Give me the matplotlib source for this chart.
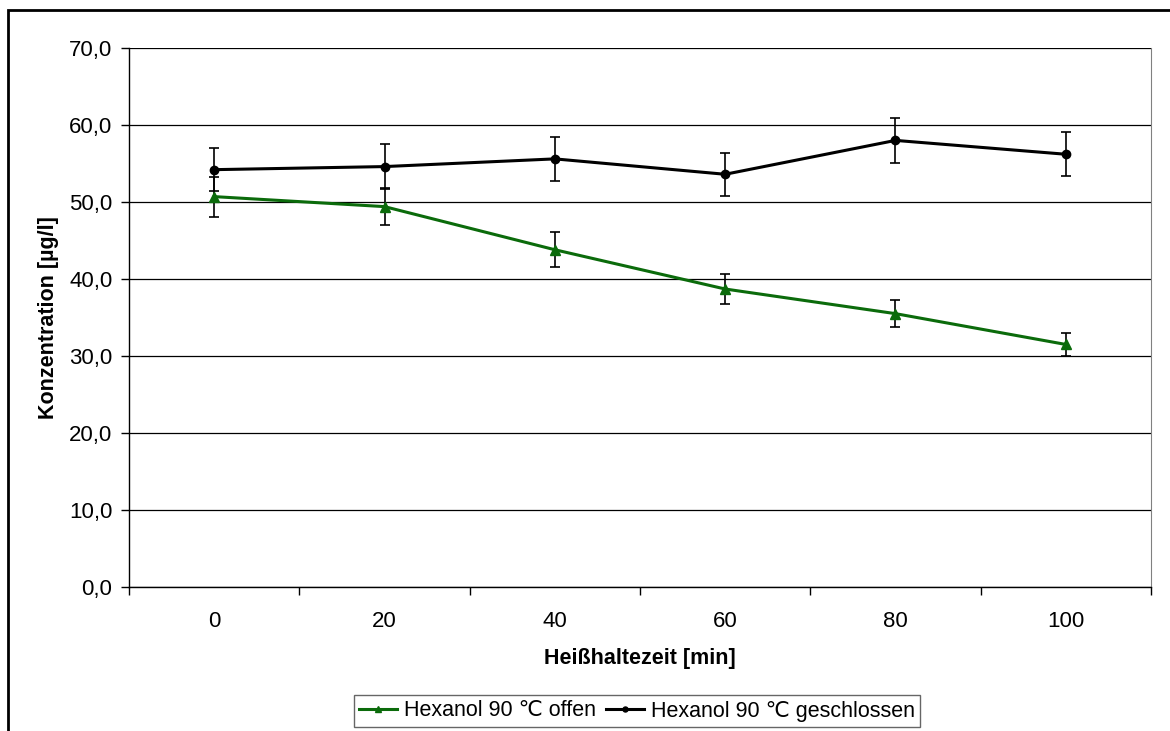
import matplotlib.pyplot as plt
from matplotlib.patches import Rectangle
from matplotlib.ticker import FuncFormatter, FixedLocator

# --- DATA ---
zeit = ['0', '20', '40', '60', '80', '100']
offen = [50.7, 49.4, 43.8, 38.7, 35.5, 31.5]
offen_err = [2.6, 2.4, 2.3, 2.0, 1.75, 1.55]
geschlossen = [54.2, 54.6, 55.6, 53.6, 58.0, 56.2]
geschlossen_err = [2.8, 2.9, 2.85, 2.8, 2.95, 2.85]

GREEN = '#0b6b0b'
FS = 15.5

plt.rcParams['font.family'] = ['Liberation Sans', 'DejaVu Sans']

fig = plt.figure(figsize=(11.7, 7.31), dpi=100)
ax = fig.add_axes([129 / 1170, 1 - 587 / 731, (1151 - 129) / 1170, (587 - 48) / 731])

# chart area border (runs off the right/bottom edge in the original)
fig.patches.append(Rectangle((8 / 1170, -0.2), 1.2, 1 - 10 / 731 + 0.2,
                             transform=fig.transFigure, fill=False,
                             edgecolor='black', linewidth=2.0))

x = list(range(len(zeit)))

ax.errorbar(x, offen, yerr=offen_err, fmt='none', ecolor='black',
            elinewidth=1.2, capsize=3.3, capthick=1.2, zorder=3)
ax.errorbar(x, geschlossen, yerr=geschlossen_err, fmt='none', ecolor='black',
            elinewidth=1.2, capsize=3.3, capthick=1.2, zorder=3)
ax.plot(x, offen, color=GREEN, lw=2.2, marker='^', ms=6.5,
        label='Hexanol 90 \u2103 offen', zorder=4)
ax.plot(x, geschlossen, color='black', lw=2.2, marker='o', ms=6,
        label='Hexanol 90 \u2103 geschlossen', zorder=4)

ax.set_xlim(-0.5, len(zeit) - 0.5)
ax.set_ylim(0, 70)
ax.set_yticks(range(0, 71, 10))
ax.yaxis.set_major_formatter(FuncFormatter(lambda v, p: f'{v:.1f}'.replace('.', ',')))
ax.yaxis.grid(True, color='black', lw=0.9)
ax.set_axisbelow(True)

# category axis: ticks between categories, labels in the middle
ax.xaxis.set_major_locator(FixedLocator([i - 0.5 for i in range(len(zeit) + 1)]))
ax.xaxis.set_major_formatter(FuncFormatter(lambda v, p: ''))
ax.xaxis.set_minor_locator(FixedLocator(x))
ax.set_xticklabels(zeit, minor=True)
ax.tick_params(axis='x', which='major', direction='out', length=6, width=1)
ax.tick_params(axis='x', which='minor', length=0, pad=17, labelsize=16)
ax.tick_params(axis='y', direction='out', length=6, width=1, labelsize=16, pad=6)

ax.spines['top'].set_visible(False)
ax.spines['right'].set_color('#808080')
ax.spines['left'].set_linewidth(1)
ax.spines['bottom'].set_linewidth(1)

ax.set_xlabel('Heißhaltezeit [min]', fontsize=FS, fontweight='bold', labelpad=12)
ax.set_ylabel('Konzentration [µg/l]', fontsize=FS, fontweight='bold', labelpad=7)

leg = fig.legend(loc='center', bbox_to_anchor=(637 / 1170, 1 - 711 / 731), ncol=2,
                 fontsize=FS, frameon=True, fancybox=False, handlelength=1.75,
                 handletextpad=0.3, columnspacing=0.5, borderpad=0.25,
                 markerscale=0.6)
leg.get_frame().set_edgecolor('#404040')
leg.get_frame().set_linewidth(1)

fig.savefig('out.png', dpi=100)
